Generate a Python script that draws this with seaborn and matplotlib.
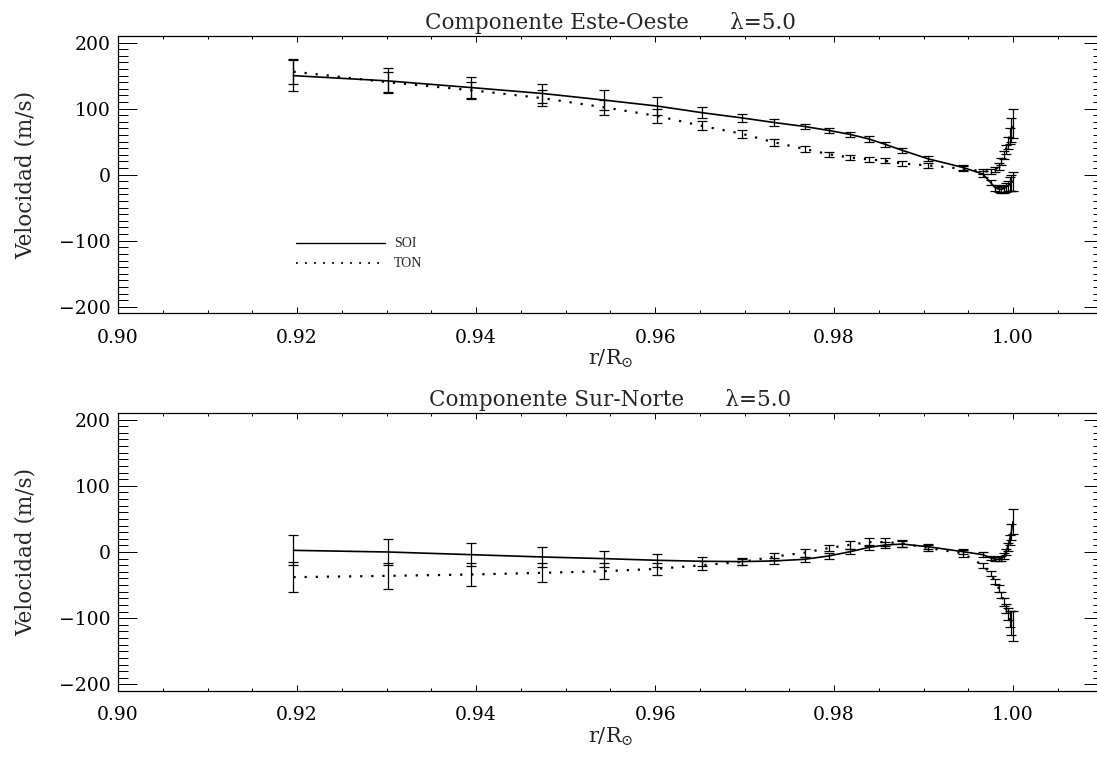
import seaborn as sns
import matplotlib
matplotlib.use("Agg")
import matplotlib.pyplot as plt
from matplotlib.ticker import MultipleLocator, FormatStrFormatter
import pandas as pd

# radios de las inversiones (r/Rsun)
radio = [0.9196, 0.9302, 0.9394, 0.9474, 0.9543, 0.9602, 0.9652, 0.9697, 0.9733,
         0.9767, 0.9794, 0.9818, 0.9839, 0.9857, 0.9876, 0.9905, 0.9944, 0.9966,
         0.9975, 0.9980, 0.9984, 0.9987, 0.9990, 0.9992, 0.9994, 0.9996, 0.9998, 1.0000]

# Componente Este-Oeste
eo_soi = [150, 142, 132, 123, 113, 104, 94, 86, 79, 73, 67, 61, 54, 46, 37, 24, 11, 1,
          -12, -20, -22, -22, -21, -19, -17, -14, -12, -10]
eo_soi_err = [24, 19, 16, 15, 15, 14, 8, 6, 5, 4, 4, 4, 4, 4, 4, 4, 4, 4,
              4, 4, 4, 5, 6, 7, 8, 10, 12, 14]
eo_ton = [156, 140, 128, 116, 102, 89, 74, 62, 49, 39, 31, 26, 23, 21, 17, 14, 9, 5,
          5, 8, 12, 20, 30, 38, 48, 58, 68, 78]
eo_ton_err = [19, 15, 13, 12, 11, 10, 7, 6, 5, 4, 4, 4, 4, 4, 4, 4, 4, 4,
              4, 4, 5, 5, 6, 7, 9, 12, 18, 22]

# Componente Sur-Norte
sn_soi = [2.5, 0, -4, -7.5, -10, -12.5, -14, -14.5, -13.5, -11, -6, 0.5, 7, 10.6, 12, 8, 0.5, -4,
          -9, -11, -11, -10, -6, 0, 8, 18, 30, 46]
sn_soi_err = [22.5, 19.5, 17, 14.5, 12, 10, 7, 5, 4, 4, 4, 4, 4, 4, 4, 4, 4, 4,
              3, 3, 3, 4, 4, 5, 6, 8, 12, 19]
sn_ton = [-38, -36, -34, -31.5, -29, -25.5, -20, -15, -7, -1, 6, 11, 15, 15, 13, 6, -2, -20,
          -32, -45, -55, -65, -75, -85, -93, -101, -107, -112]
sn_ton_err = [23, 20, 17.5, 14.5, 12, 9.5, 7, 5, 5, 6, 5, 6, 6, 6, 5, 4, 5, 4,
              4, 4, 5, 5, 6, 7, 9, 12, 18, 23]

titulos = ["Componente Este-Oeste      \u03bb=5.0", "Componente Sur-Norte      \u03bb=5.0"]
etiquetas = ["SOI", "TON"]

sns.set_style("ticks")
plt.rcParams['font.family'] = ['DejaVu Serif']
plt.rcParams['mathtext.fontset'] = 'dejavuserif'
plt.rcParams['axes.linewidth'] = 0.9

fig = plt.figure(figsize=(10.97, 7.57), dpi=100)
ax1 = fig.add_axes([0.1076, 0.5861, 0.8975, 0.3663])
ax2 = fig.add_axes([0.1076, 0.0872, 0.8975, 0.3672])

paneles = [
    (ax1, eo_soi, eo_soi_err, eo_ton, eo_ton_err, titulos[0]),
    (ax2, sn_soi, sn_soi_err, sn_ton, sn_ton_err, titulos[1]),
]

for ax, soi, soi_e, ton, ton_e, tit in paneles:
    df = pd.DataFrame({'r': radio, 'SOI': soi, 'TON': ton})
    sns.lineplot(data=df, x='r', y='SOI', ax=ax, color='black', linewidth=1.2)
    sns.lineplot(data=df, x='r', y='TON', ax=ax, color='black', linewidth=1.6,
                 linestyle=(0, (1, 4.0)))
    ax.errorbar(radio, soi, yerr=soi_e, fmt='none', ecolor='black', elinewidth=0.9,
                capsize=3.8, capthick=0.9)
    ax.errorbar(radio, ton, yerr=ton_e, fmt='none', ecolor='black', elinewidth=0.9,
                capsize=3.8, capthick=0.9)

    ax.set_xlim(0.90, 1.01)
    ax.set_ylim(-210, 210)
    ax.xaxis.set_major_locator(MultipleLocator(0.02))
    ax.xaxis.set_minor_locator(MultipleLocator(0.005))
    ax.xaxis.set_major_formatter(FormatStrFormatter('%.2f'))
    ax.yaxis.set_major_locator(MultipleLocator(100))
    ax.yaxis.set_minor_locator(MultipleLocator(10))
    ax.tick_params(axis='both', which='both', direction='in', top=True, right=True,
                   width=0.7, colors='black', labelsize=13.5)
    ax.tick_params(axis='x', which='major', length=4.5, pad=11)
    ax.tick_params(axis='x', which='minor', length=2.3)
    ax.tick_params(axis='y', which='major', length=14, pad=5)
    ax.tick_params(axis='y', which='minor', length=7)
    for s in ax.spines.values():
        s.set_visible(True)
        s.set_color('black')

    ax.set_title(tit, fontsize=15.5, pad=5)
    ax.set_xlabel(r'r/R$_{\odot}$', fontsize=15, labelpad=1)
    ax.set_ylabel('Velocidad (m/s)', fontsize=15.5, labelpad=16)

# leyenda dibujada a mano como en el original
ax1.plot([0.181, 0.271], [0.253, 0.253], transform=ax1.transAxes, color='black', linewidth=1.0)
ax1.plot([0.181, 0.271], [0.181, 0.181], transform=ax1.transAxes, color='black', linewidth=1.3,
         linestyle=(0, (1, 4)))
ax1.text(0.280, 0.253, etiquetas[0], transform=ax1.transAxes, fontsize=10,
         va='center', family='Liberation Serif')
ax1.text(0.280, 0.181, etiquetas[1], transform=ax1.transAxes, fontsize=10,
         va='center', family='Liberation Serif')

plt.savefig('out.png', dpi=100)
